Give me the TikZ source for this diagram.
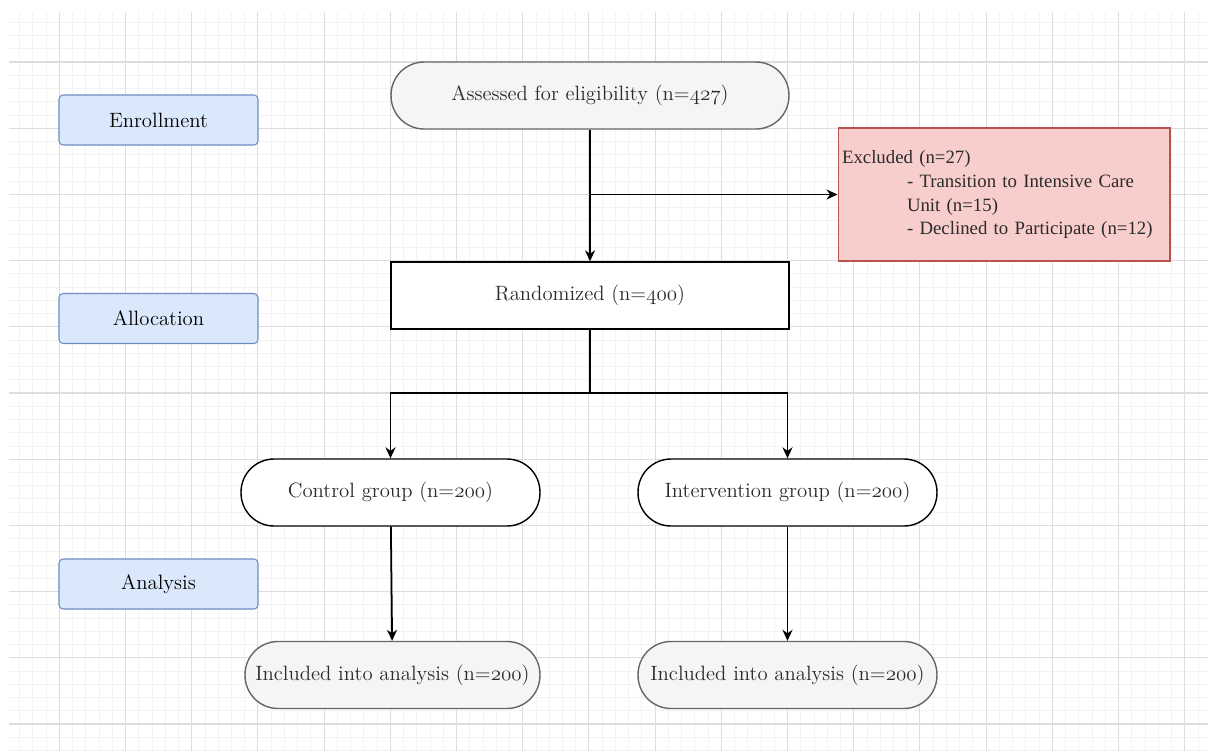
\documentclass[tikz,border=0pt]{standalone}
\usepackage{fontspec}
\newfontfamily\exclfont{Liberation Serif}
\usetikzlibrary{arrows.meta}

\definecolor{phasefill}{HTML}{DAE8FC}
\definecolor{phaseline}{HTML}{6C8EBF}
\definecolor{greyfill}{HTML}{F5F5F5}
\definecolor{greyline}{HTML}{666666}
\definecolor{exclfill}{HTML}{F8CECC}
\definecolor{exclline}{HTML}{B85450}
\definecolor{gridminor}{HTML}{F2F2F2}
\definecolor{gridmajor}{HTML}{DDDDDD}
\definecolor{txt}{HTML}{2B2B2B}

\newcommand{\osn}[1]{\legacyoldstylenums{#1}}

\begin{document}
\begin{tikzpicture}[
    x=0.02cm, y=-0.02cm,
    >={Stealth[length=0.22cm, width=0.2cm]},
    every node/.style={font=\fontsize{11.8}{14}\selectfont, text=txt},
    phase/.style={draw=phaseline, fill=phasefill, line width=0.6pt,
        rounded corners=0.08cm, minimum width=3.98cm, minimum height=1cm,
        text=black},
    pill/.style={draw, line width=0.8pt, rounded corners=0.66cm,
        minimum width=5.98cm, minimum height=1.34cm},
    greypill/.style={pill, draw=greyline, fill=greyfill},
    excl/.style={draw=exclline, fill=exclfill, line width=0.6pt,
        minimum width=6.64cm, minimum height=2.66cm, text width=6.48cm,
        inner sep=0.08cm, align=left,
        font=\exclfont\fontsize{10.7}{13.65}\selectfont},
    flow/.style={->, line width=1pt}
]

\useasboundingbox (0,0) rectangle (1208,751);

% Grid x/y origin of the major lines (px) and minor step
\def\gx{59.3}
\def\gy{62}
\def\gs{13.24}

% background grid
\begin{scope}
    \clip (9,12) rectangle (1208,751);
    \foreach \k in {-3,...,86}
        \draw[gridminor, line width=0.5pt] (\gx+\gs*\k,0) -- (\gx+\gs*\k,751);
    \foreach \k in {-3,...,52}
        \draw[gridminor, line width=0.5pt] (0,\gy+\gs*\k) -- (1208,\gy+\gs*\k);
    \foreach \k in {0,...,17}
        \draw[gridmajor, line width=0.6pt] (\gx+5*\gs*\k,0) -- (\gx+5*\gs*\k,751);
    \foreach \k in {0,...,10}
        \draw[gridmajor, line width=0.6pt] (0,\gy+5*\gs*\k) -- (1208,\gy+5*\gs*\k);
\end{scope}

% Phase labels
\node (enrol)  [phase] at (158.5,120) {Enrollment};
\node (alloc)  [phase] at (158.5,318.5) {Allocation};
\node (analys) [phase] at (158.5,584) {Analysis};

% Main column
\node (assess) [greypill, minimum width=7.96cm] at (590,95.5)
    {Assessed for eligibility (n=\osn{427})};
\node (random) [draw, fill=white, line width=0.8pt, minimum width=7.96cm,
    minimum height=1.34cm] at (590,295.5) {Randomized (n=\osn{400})};

% Exclusions
\node (excl) [excl] at (1004,194.5)
    {Excluded (n=27)\\
     \hspace*{1.3cm}- Transition to Intensive Care\\
     \hspace*{1.3cm}Unit (n=15)\\
     \hspace*{1.3cm}- Declined to Participate (n=12)};

% Groups
\node (ctrl)   [pill, fill=white] at (390.5,492.5) {Control group (n=\osn{200})};
\node (interv) [pill, fill=white] at (787.5,492.5) {Intervention group (n=\osn{200})};

% Analysis
\node (incl1) [greypill, minimum width=5.9cm] at (392.5,675)
    {Included into analysis (n=\osn{200})};
\node (incl2) [greypill] at (787.5,675)
    {Included into analysis (n=\osn{200})};

% branch points
\coordinate (split) at (590,194.5);
\coordinate (fork)  at (590,393);

% connectors
\draw[flow] (assess) -- (random);
\draw[flow] (split) -- (excl.west);
\draw[line width=1pt] (random) -- (fork);
\draw[flow] (fork) -| (ctrl);
\draw[flow] (fork) -| (interv);
\draw[flow] (ctrl) -- (incl1);
\draw[flow] (interv) -- (incl2);

\end{tikzpicture}
\end{document}
